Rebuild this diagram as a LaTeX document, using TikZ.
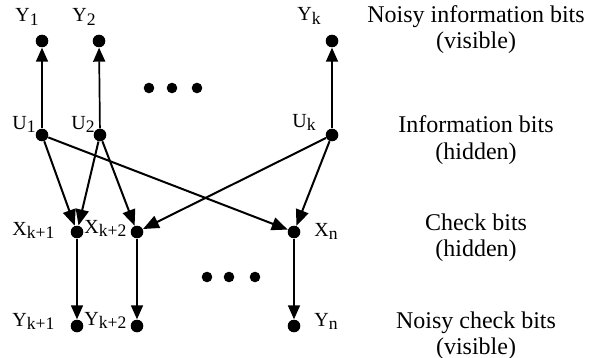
\documentclass[tikz,border=0pt]{standalone}
\usepackage{fontspec}
\setmainfont{Liberation Serif}
\usetikzlibrary{arrows.meta}

% variable name with a lowered, slightly smaller index
\newcommand{\varidx}[2]{#1\raisebox{-1.8pt}{\fontsize{8.8}{9}\selectfont #2}}

\begin{document}
\begin{tikzpicture}[x=0.5pt,y=-0.5pt,
  bit/.style={circle,fill=black,inner sep=0pt,minimum size=6.3pt},
  gapdot/.style={circle,fill=black,inner sep=0pt,minimum size=5.3pt},
  lbl/.style={anchor=base west,inner sep=0pt,font=\fontsize{10}{11}\selectfont},
  layer/.style={anchor=base,inner sep=0pt,font=\fontsize{12}{14}\selectfont},
  link/.style={line width=1pt,-{Triangle[length=8pt,width=6.5pt]}},
  chan/.style={line width=0.85pt,-{Triangle[length=7pt,width=6pt]}}
]
\useasboundingbox (0,0) rectangle (594,358);

% noisy information bits
\node[bit] (y1) at (42,41) {};
\node[bit] (y2) at (99,41) {};
\node[bit] (yk) at (332,41) {};
% information bits
\node[bit] (u1) at (42,135) {};
\node[bit] (u2) at (100,135) {};
\node[bit] (uk) at (332,135) {};
% check bits
\node[bit] (xa) at (77,232) {};
\node[bit] (xb) at (137,232) {};
\node[bit] (xn) at (294,232) {};
% noisy check bits
\node[bit] (ya) at (77,326) {};
\node[bit] (yb) at (137,326) {};
\node[bit] (yn) at (294,326) {};

% ellipses
\node[gapdot] (e1) at (149,88) {};
\node[gapdot] (e2) at (172,88) {};
\node[gapdot] (e3) at (197,88) {};
\node[gapdot] (f1) at (207,277) {};
\node[gapdot] (f2) at (229,277) {};
\node[gapdot] (f3) at (255,277) {};

% labels
\node[lbl] (ly1) at (15,22) {\varidx{Y}{1}};
\node[lbl] (ly2) at (72,22) {\varidx{Y}{2}};
\node[lbl] (lyk) at (297,21) {\varidx{Y}{k}};
\node[lbl] (lu1) at (12,129) {\varidx{U}{1}};
\node[lbl] (lu2) at (71,129) {\varidx{U}{2}};
\node[lbl] (luk) at (292,127) {\varidx{U}{k}};
\node[lbl] (lxa) at (12,235) {\varidx{X}{k+1}};
\node[lbl] (lxb) at (84,233) {\varidx{X}{k+2}};
\node[lbl] (lxn) at (314,236) {\varidx{X}{n}};
\node[lbl] (lya) at (12,326) {\varidx{Y}{k+1}};
\node[lbl] (lyb) at (84,325) {\varidx{Y}{k+2}};
\node[lbl] (lyn) at (314,326) {\varidx{Y}{n}};

% layer captions
\node[layer] (c1a) at (476,23) {Noisy information bits};
\node[layer] (c1b) at (476,49) {(visible)};
\node[layer] (c2a) at (476,133) {Information bits};
\node[layer] (c2b) at (476,159) {(hidden)};
\node[layer] (c3a) at (476,230) {Check bits};
\node[layer] (c3b) at (476,256) {(hidden)};
\node[layer] (c4a) at (476,328) {Noisy check bits};
\node[layer] (c4b) at (476,354) {(visible)};

% channel edges
\draw[chan] (u1) -- (y1);
\draw[chan] (u2) -- (y2);
\draw[chan] (uk) -- (yk);
\draw[chan] (xa) -- (ya);
\draw[chan] (xb) -- (yb);
\draw[chan] (xn) -- (yn);

% parity-check edges
\draw[link] (u1) -- (xa);
\draw[link] (u1) -- (xn);
\draw[link] (u2) -- (xa);
\draw[link] (u2) -- (xb);
\draw[link] (uk) -- (xb);
\draw[link] (uk) -- (xn);
\end{tikzpicture}
\end{document}
